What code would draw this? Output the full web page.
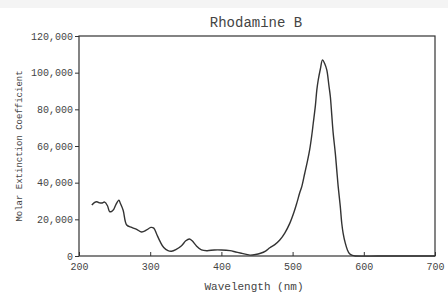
<!DOCTYPE html>
<html>
<head>
<meta charset="utf-8">
<script src="https://cdn.jsdelivr.net/npm/d3@7"></script>
<style>
  body { margin: 0; background: #fff; }
  svg { display: block; }
</style>
</head>
<body>
<div id="chart"></div>
<script>
const title = "Rhodamine B";
const xLabel = "Wavelength (nm)";
const yLabel = "Molar Extinction Coefficient";
const xTicks = [200, 300, 400, 500, 600, 700];
const yTicks = [0, 20000, 40000, 60000, 80000, 100000, 120000];

const wavelength = [
  218, 222, 225, 229, 232, 236, 240, 243, 246, 249, 252, 256, 258, 262, 267,
  274, 281, 288, 295, 301, 305, 309, 314, 319, 325, 330, 336, 344, 350, 355,
  359, 365, 372, 380, 390, 400, 412, 420, 428, 435, 440, 448, 455, 462, 468,
  475, 482, 489, 496, 502, 506, 510, 513, 517, 521, 524, 527, 529, 532, 534,
  536, 539, 542, 545, 548, 551, 553, 555, 557, 560, 562, 564, 567, 569, 571,
  574, 577, 580, 584, 588, 620, 660, 700
];
const epsilon = [
  27800, 29300, 29600, 29000, 28900, 29400, 27400, 24200, 24400, 25600, 28200, 30500, 28800, 25000, 16900,
  15600, 14500, 13100, 14200, 15600, 15200, 12000, 7800, 4600, 2900, 2600, 3500, 5600, 8300, 9300,
  8300, 5500, 3300, 2900, 3300, 3300, 2900, 2200, 1500, 900, 500, 800, 1500, 2700, 4500,
  6200, 8700, 12500, 17800, 24000, 29000, 34500, 38000, 45000, 52000, 58000, 66000, 72400, 82000, 90500,
  96000, 102000, 107000, 105000, 101500, 93000, 87000, 77000, 67000, 56000, 47000, 38000, 26900, 18000, 12400,
  7000, 3300, 1200, 300, 0, 0, 0, 0
];

const w = 448;
const h = 293;
const margin = { top: 36, right: 13, bottom: 37, left: 79 };
const ink = "#333";
const font = "'Liberation Mono', 'DejaVu Sans Mono', monospace";

const svg = d3
  .select("#chart")
  .append("svg")
  .attr("width", w)
  .attr("height", h);

// faint grey band at the very top of the scan
svg.append("rect").attr("x", 0).attr("y", 0).attr("width", w).attr("height", 8).attr("fill", "#f4f4f4");

const xScale = d3
  .scaleLinear()
  .domain([200, 700])
  .range([margin.left, w - margin.right]);
const yScale = d3
  .scaleLinear()
  .domain([0, 120000])
  .range([h - margin.bottom, margin.top]);

// frame
svg
  .append("rect")
  .attr("x", xScale(200))
  .attr("y", yScale(120000))
  .attr("width", xScale(700) - xScale(200))
  .attr("height", yScale(0) - yScale(120000))
  .attr("fill", "none")
  .attr("stroke", ink)
  .attr("stroke-width", 1.2);

const xAxis = d3
  .axisBottom(xScale)
  .tickValues(xTicks)
  .tickSize(-4)
  .tickPadding(7)
  .tickFormat(d3.format("d"));
svg
  .append("g")
  .attr("transform", `translate(0,${yScale(0)})`)
  .call(xAxis)
  .call((g) => g.select(".domain").remove())
  .call((g) => g.selectAll("line").attr("stroke", ink))
  .call((g) =>
    g.selectAll("text").attr("fill", "#444").style("font-family", font).style("font-size", "10px")
  );

const yAxis = d3
  .axisLeft(yScale)
  .tickValues(yTicks)
  .tickSize(4)
  .tickPadding(2)
  .tickFormat(d3.format(","));
svg
  .append("g")
  .attr("transform", `translate(${xScale(200)},0)`)
  .call(yAxis)
  .call((g) => g.select(".domain").remove())
  .call((g) => g.selectAll("line").attr("stroke", ink))
  .call((g) =>
    g.selectAll("text").attr("fill", "#444").style("font-family", font).style("font-size", "10px")
  );

const points = wavelength.map((d, i) => [d, epsilon[i]]);
const line = d3
  .line()
  .x((d) => xScale(d[0]))
  .y((d) => yScale(d[1]))
  .curve(d3.curveCatmullRom);
svg
  .append("path")
  .datum(points)
  .attr("d", line)
  .attr("fill", "none")
  .attr("stroke", ink)
  .attr("stroke-width", 1.4);

svg
  .append("text")
  .attr("x", 256)
  .attr("y", 27)
  .attr("text-anchor", "middle")
  .attr("fill", "#444")
  .style("font-family", font)
  .style("font-size", "14px")
  .text(title);

svg
  .append("text")
  .attr("x", 254)
  .attr("y", 290)
  .attr("text-anchor", "middle")
  .attr("fill", "#444")
  .style("font-family", font)
  .style("font-size", "11px")
  .text(xLabel);

svg
  .append("text")
  .attr("transform", "translate(22,146) rotate(-90)")
  .attr("text-anchor", "middle")
  .attr("fill", "#444")
  .style("font-family", font)
  .style("font-size", "9px")
  .text(yLabel);
</script>
</body>
</html>
